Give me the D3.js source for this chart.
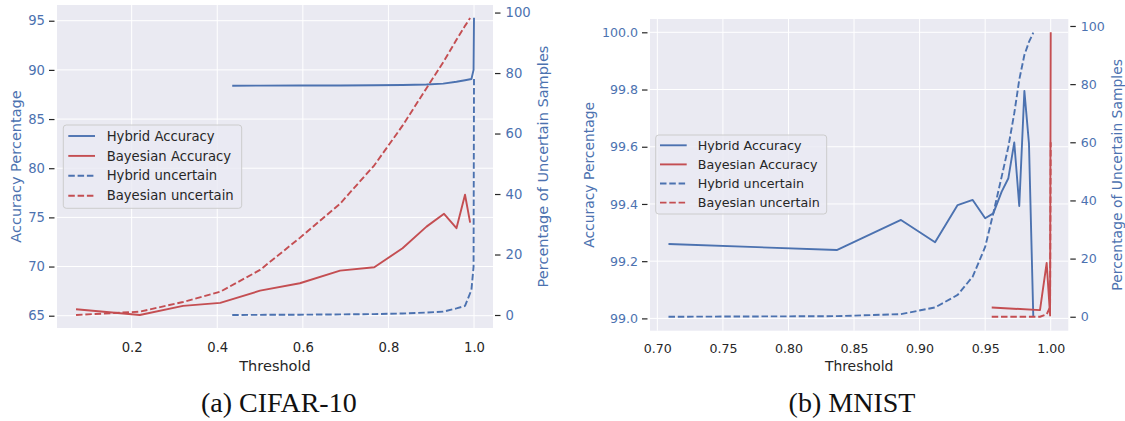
<!DOCTYPE html>
<html>
<head>
<meta charset="utf-8">
<script src="https://cdn.jsdelivr.net/npm/d3@7"></script>
<style>
  body { margin: 0; background: #fff; }
  svg { display: block; }
</style>
</head>
<body>
<div id="chart"></div>
<script>
// ---- CIFAR-10 data ----
const cifarBayesX = [0.07, 0.219, 0.32, 0.407, 0.50, 0.593, 0.687, 0.767, 0.833, 0.889, 0.930, 0.959, 0.979, 0.991];
const cifarBayesAcc = [65.65, 65.07, 66.0, 66.3, 67.55, 68.3, 69.58, 69.93, 71.86, 74.06, 75.36, 73.9, 77.3, 74.47];
const cifarBayesUnc = [0, 1.1, 4.3, 7.7, 14.9, 25.5, 36.8, 49.5, 62.6, 75, 84, 91, 95.6, 98.2];
const cifarHybridX = [0.435, 0.50, 0.593, 0.687, 0.767, 0.833, 0.889, 0.928, 0.959, 0.979, 0.994, 0.999, 1.0];
const cifarHybridAcc = [88.39, 88.40, 88.41, 88.42, 88.44, 88.47, 88.52, 88.6, 88.8, 88.95, 89.07, 90.0, 95.3];
const cifarHybridUnc = [0, 0.05, 0.1, 0.2, 0.3, 0.5, 0.8, 1.1, 2.2, 3.0, 8.3, 16, 78];

// ---- MNIST data ----
const mnistHybridX = [0.7085, 0.8368, 0.8858, 0.9118, 0.929, 0.9405, 0.95, 0.9562, 0.9626, 0.9677, 0.9722, 0.976, 0.9799, 0.9834, 0.9867];
const mnistHybridAcc = [99.26, 99.239, 99.344, 99.266, 99.396, 99.414, 99.35, 99.367, 99.443, 99.49, 99.615, 99.393, 99.795, 99.612, 99.006];
const mnistHybridUnc = [0.0, 0.2, 0.9, 3.2, 7.5, 13.8, 24, 35.6, 48.2, 58.5, 70, 81.5, 90, 94.5, 97.7];
const mnistBayesX = [0.955, 0.9918, 0.9969, 0.9995, 1.0];
const mnistBayesAcc = [99.038, 99.029, 99.194, 99.01, 100.0];
const mnistBayesUnc = [0, 0, 0.8, 3.4, 60];

// ---- ticks ----
const cifarXTicks = [0.2, 0.4, 0.6, 0.8, 1.0];
const cifarYTicks = [65, 70, 75, 80, 85, 90, 95];
const mnistXTicks = [0.70, 0.75, 0.80, 0.85, 0.90, 0.95, 1.00];
const mnistYTicks = [99.0, 99.2, 99.4, 99.6, 99.8, 100.0];
const uncTicks = [0, 20, 40, 60, 80, 100];

const legendNames = ['Hybrid Accuracy', 'Bayesian Accuracy', 'Hybrid uncertain', 'Bayesian uncertain'];
const captions = ['(a) CIFAR-10', '(b) MNIST'];

const blue = '#4c72b0';
const red = '#c44e52';
const dark = '#262626';
const font = 'DejaVu Sans, sans-serif';

const W = 1125, H = 421;
const svg = d3.select('#chart').append('svg')
  .attr('width', W)
  .attr('height', H);
svg.append('rect').attr('width', W).attr('height', H).attr('fill', '#fff');

function drawPanel(p, idx) {
  const x = d3.scaleLinear().domain(p.xDomain).range([p.left, p.right]);
  const y = d3.scaleLinear().domain(p.yDomain).range([p.bottom, p.top]);
  const y2 = d3.scaleLinear().domain(p.y2Domain).range([p.bottom, p.top]);

  const g = svg.append('g');

  g.append('rect')
    .attr('x', p.left).attr('y', p.top)
    .attr('width', p.right - p.left).attr('height', p.bottom - p.top)
    .attr('fill', '#eaeaf2');

  // grid
  g.selectAll('.vgrid').data(p.xTicks).enter().append('line')
    .attr('x1', d => x(d)).attr('x2', d => x(d))
    .attr('y1', p.top).attr('y2', p.bottom)
    .attr('stroke', '#fff').attr('stroke-width', 1);
  g.selectAll('.hgrid').data(p.yTicks).enter().append('line')
    .attr('x1', p.left).attr('x2', p.right)
    .attr('y1', d => y(d)).attr('y2', d => y(d))
    .attr('stroke', '#fff').attr('stroke-width', 1);

  const clipId = 'clip' + idx;
  svg.append('clipPath').attr('id', clipId)
    .append('rect')
    .attr('x', p.left).attr('y', p.top)
    .attr('width', p.right - p.left).attr('height', p.bottom - p.top);

  const lines = g.append('g').attr('clip-path', `url(#${clipId})`);
  p.series.forEach(s => {
    const sc = s.axis === 'y2' ? y2 : y;
    const pts = s.x.map((v, i) => [v, s.y[i]]);
    const line = d3.line().x(d => x(d[0])).y(d => sc(d[1]));
    lines.append('path')
      .datum(pts)
      .attr('d', line)
      .attr('fill', 'none')
      .attr('stroke', s.color)
      .attr('stroke-width', 1.9)
      .attr('stroke-linejoin', 'round')
      .attr('stroke-dasharray', s.dashed ? '6.5,2.8' : null);
  });

  // axes
  const xAxis = g.append('g')
    .attr('transform', `translate(0,${p.bottom})`)
    .call(d3.axisBottom(x).tickValues(p.xTicks).tickFormat(d3.format(p.xFmt)).tickSize(0).tickPadding(p.xPad));
  xAxis.select('.domain').remove();
  xAxis.selectAll('text').attr('fill', dark).style('font-family', font).style('font-size', p.fs + 'px');

  const yAxis = g.append('g')
    .attr('transform', `translate(${p.left - 2.5},0)`)
    .call(d3.axisLeft(y).tickValues(p.yTicks).tickFormat(d3.format(p.yFmt)).tickSize(5.5).tickPadding(4));
  yAxis.select('.domain').remove();
  yAxis.selectAll('line').attr('stroke', dark).attr('stroke-width', 1.2);
  yAxis.selectAll('text').attr('fill', blue).style('font-family', font).style('font-size', p.fs + 'px');

  const y2Axis = g.append('g')
    .attr('transform', `translate(${p.right + 2},0)`)
    .call(d3.axisRight(y2).tickValues(uncTicks).tickFormat(d3.format('d')).tickSize(5.5).tickPadding(5));
  y2Axis.select('.domain').remove();
  y2Axis.selectAll('line').attr('stroke', dark).attr('stroke-width', 1.2);
  y2Axis.selectAll('text').attr('fill', blue).style('font-family', font).style('font-size', p.fs + 'px');

  // axis labels
  const cy = (p.top + p.bottom) / 2;
  g.append('text')
    .attr('transform', `translate(${p.yLabelX},${cy}) rotate(-90)`)
    .attr('text-anchor', 'middle').attr('dy', '0.35em')
    .attr('fill', blue).style('font-family', font).style('font-size', p.labFs + 'px')
    .text('Accuracy Percentage');
  g.append('text')
    .attr('transform', `translate(${p.y2LabelX},${cy}) rotate(-90)`)
    .attr('text-anchor', 'middle').attr('dy', '0.35em')
    .attr('fill', blue).style('font-family', font).style('font-size', p.labFs + 'px')
    .text('Percentage of Uncertain Samples');
  g.append('text')
    .attr('x', (p.left + p.right) / 2).attr('y', p.xLabelY)
    .attr('text-anchor', 'middle').attr('dy', '0.35em')
    .attr('fill', dark).style('font-family', font).style('font-size', p.labFs + 'px')
    .text('Threshold');

  // legend
  const L = p.legend;
  const lg = g.append('g');
  lg.append('rect')
    .attr('x', L.x).attr('y', L.y).attr('width', L.w).attr('height', L.h)
    .attr('rx', 3)
    .attr('fill', '#eaeaf2').attr('fill-opacity', 0.8)
    .attr('stroke', '#cccccc').attr('stroke-width', 1);
  const legendStyles = [
    { color: blue, dashed: false },
    { color: red, dashed: false },
    { color: blue, dashed: true },
    { color: red, dashed: true }
  ];
  legendNames.forEach((name, i) => {
    const ly = L.y + L.first + i * L.rowH;
    lg.append('line')
      .attr('x1', L.x + L.lx0).attr('x2', L.x + L.lx1)
      .attr('y1', ly).attr('y2', ly)
      .attr('stroke', legendStyles[i].color).attr('stroke-width', 1.9)
      .attr('stroke-dasharray', legendStyles[i].dashed ? '6.5,2.8' : null);
    lg.append('text')
      .attr('x', L.x + L.tx).attr('y', ly).attr('dy', '0.35em')
      .attr('fill', dark).style('font-family', font).style('font-size', L.fs + 'px')
      .text(name);
  });

  // caption
  svg.append('text')
    .attr('x', p.capX).attr('y', 411.5)
    .attr('text-anchor', 'middle')
    .attr('fill', '#111')
    .style('font-family', 'Liberation Serif, serif')
    .style('font-size', '28px')
    .text(p.caption);
}

drawPanel({
  left: 57, right: 493, top: 5, bottom: 328,
  xDomain: [0.0255, 1.0444], yDomain: [63.75, 96.6], y2Domain: [-4.3, 102.5],
  xTicks: cifarXTicks, xFmt: '.1f', yTicks: cifarYTicks, yFmt: 'd',
  fs: 13.2, labFs: 14.5, xPad: 14.3,
  yLabelX: 15.5, y2LabelX: 542.5, xLabelY: 365.7,
  series: [
    { x: cifarHybridX, y: cifarHybridAcc, axis: 'y', color: blue, dashed: false },
    { x: cifarBayesX, y: cifarBayesAcc, axis: 'y', color: red, dashed: false },
    { x: cifarHybridX, y: cifarHybridUnc, axis: 'y2', color: blue, dashed: true },
    { x: cifarBayesX, y: cifarBayesUnc, axis: 'y2', color: red, dashed: true }
  ],
  legend: { x: 63.3, y: 125, w: 178.4, h: 83.3, first: 11, rowH: 19.9, lx0: 5, lx1: 31.7, tx: 43.4, fs: 13.2 },
  caption: captions[0], capX: 278.8
}, 0);

drawPanel({
  left: 650, right: 1068.3, top: 19, bottom: 330.7,
  xDomain: [0.6944, 1.0134], yDomain: [98.957, 100.0465], y2Domain: [-4.8, 102.4],
  xTicks: mnistXTicks, xFmt: '.2f', yTicks: mnistYTicks, yFmt: '.1f',
  fs: 12.6, labFs: 13.9, xPad: 13,
  yLabelX: 589, y2LabelX: 1117.5, xLabelY: 365.7,
  series: [
    { x: mnistHybridX, y: mnistHybridAcc, axis: 'y', color: blue, dashed: false },
    { x: mnistBayesX, y: mnistBayesAcc, axis: 'y', color: red, dashed: false },
    { x: mnistHybridX, y: mnistHybridUnc, axis: 'y2', color: blue, dashed: true },
    { x: mnistBayesX, y: mnistBayesUnc, axis: 'y2', color: red, dashed: true }
  ],
  legend: { x: 655.7, y: 135, w: 171, h: 79, first: 10.3, rowH: 19.1, lx0: 4.3, lx1: 31, tx: 42, fs: 12.7 },
  caption: captions[1], capX: 852
}, 1);
</script>
</body>
</html>
